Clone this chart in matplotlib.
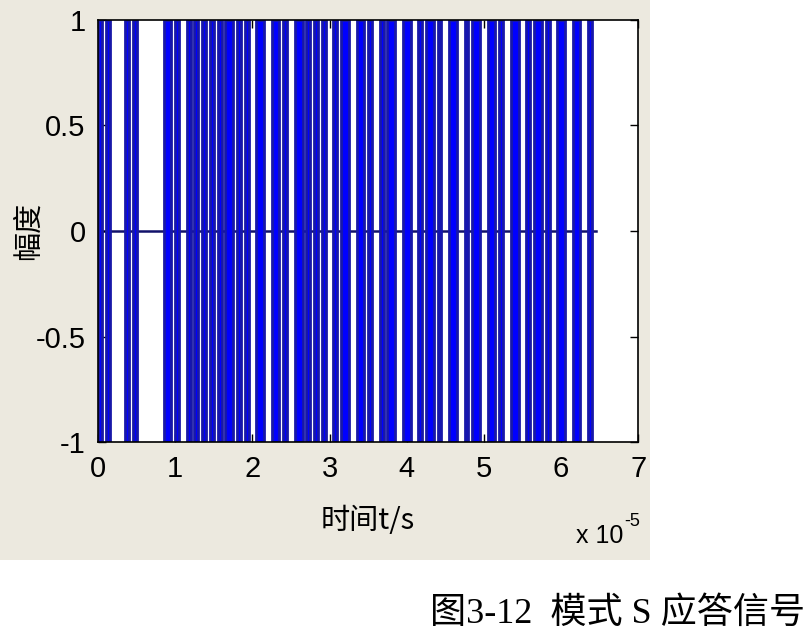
import matplotlib
matplotlib.use("Agg")
import matplotlib.pyplot as plt
from matplotlib.patches import Rectangle

# Mode S reply: preamble pulse starts (us), then 56 PPM data bits
preamble_us = [0.0, 1.0, 3.5, 4.5]
data_start_us = 8.0
pulse_us = 0.5
bits = [0, 1, 1, 0, 0, 0, 0, 0, 0, 1,
        1, 1, 0, 1, 0, 1, 1, 0, 1, 1,
        1, 1, 0, 0, 1, 0, 1, 1, 0, 0,
        1, 0, 1, 0, 0, 1, 1, 0, 1, 0,
        0, 1, 0, 1, 1, 0, 1, 0, 0, 1,
        1, 0, 1, 0, 1, 0]
signal_end_us = 64.5

x_ticks = [0, 1, 2, 3, 4, 5, 6, 7]
y_ticks = [-1, -0.5, 0, 0.5, 1]
y_tick_labels = ["-1", "-0.5", "0", "0.5", "1"]

# pulse intervals in units of 1e-5 s, adjacent pulses merged
starts = list(preamble_us)
for k, b in enumerate(bits):
    starts.append(data_start_us + k + (0.0 if b else 0.5))
starts.sort()
pulses = []
for s in starts:
    if pulses and abs(pulses[-1][1] - s) < 1e-9:
        pulses[-1][1] = s + pulse_us
    else:
        pulses.append([s, s + pulse_us])
left = [p[0] / 10 for p in pulses]
width = [(p[1] - p[0]) / 10 for p in pulses]

cjk = ["Noto Sans CJK SC", "DejaVu Sans"]
plt.rcParams["axes.unicode_minus"] = False

fig = plt.figure(figsize=(8.1, 6.4), dpi=100, facecolor="white")
fig.patches.append(Rectangle((0, 0.125), 0.802, 0.875, transform=fig.transFigure,
                             facecolor="#ece9df", edgecolor="none", zorder=-10))
ax = fig.add_axes([0.121, 0.309, 0.667, 0.66])
ax.set_zorder(5)
ax.set_facecolor("white")

ax.plot([0, signal_end_us / 10], [0, 0], color="#12126a", lw=1.8, zorder=1)
ax.bar(left, 2, width=width, bottom=-1, align="edge", color="#0000ff",
       edgecolor="#1818a8", linewidth=2.0, zorder=2)

ax.set_xlim(0, 7)
ax.set_ylim(-1, 1)
ax.set_xticks(x_ticks)
ax.set_yticks(y_ticks)
ax.set_yticklabels(y_tick_labels)
ax.tick_params(direction="in", length=6, width=1, top=True, right=True,
               labelsize=21, pad=9)
for lab in ax.get_xticklabels() + ax.get_yticklabels():
    lab.set_family("Liberation Sans")
for sp in ax.spines.values():
    sp.set_linewidth(1.2)
    sp.set_zorder(3)

ax.set_xlabel("时间t/s", family=cjk, fontsize=21)
ax.xaxis.set_label_coords(0.5, -0.15)
ax.set_ylabel("幅度", family=cjk, fontsize=21)
ax.yaxis.set_label_coords(-0.10, 0.5)
fig.text(0.77, 0.143, "x 10", family="Liberation Sans", fontsize=18, ha="right", va="bottom")
fig.text(0.771, 0.172, "-5", family="Liberation Sans", fontsize=13, ha="left", va="bottom")

fig.text(0.994, 0.04, "图3-12  模式 S 应答信号", family=["Liberation Serif", "Noto Sans CJK SC"],
         fontsize=26, ha="right", va="center")

fig.savefig("out.png", dpi=100, facecolor="white")
